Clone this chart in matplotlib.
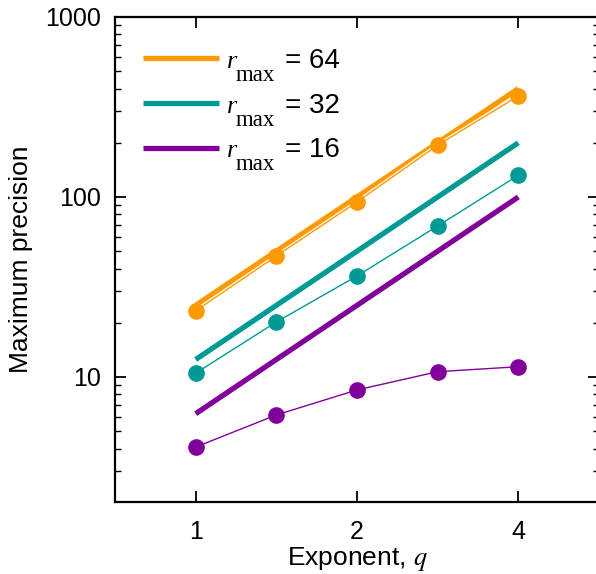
import matplotlib
matplotlib.use("Agg")
import matplotlib.pyplot as plt
import matplotlib.patheffects as pe
from matplotlib.ticker import FixedLocator, LogLocator, NullFormatter, FixedFormatter
import numpy as np

plt.rcParams['font.family'] = ['Liberation Sans', 'DejaVu Sans']
plt.rcParams['mathtext.fontset'] = 'stix'

# Data
q_points = [1.0, 1.414, 2.0, 2.828, 4.0]
prec_64 = [23.3, 47.0, 93.8, 194.0, 364.0]
prec_32 = [10.5, 20.2, 36.4, 69.0, 132.0]
prec_16 = [4.08, 6.15, 8.47, 10.7, 11.4]

q_theory = [1.0, 4.0]
theory_64 = [25.0, 400.0]
theory_32 = [12.5, 200.0]
theory_16 = [6.25, 100.0]

labels = ["64", "32", "16"]
colors = ['#ff9900', '#009a96', '#82009a']

x_ticks = [1, 2, 4]
x_ticklabels = ["1", "2", "4"]
y_ticks = [10, 100, 1000]
y_ticklabels = ["10", "100", "1000"]

W, H = 596, 574
fig = plt.figure(figsize=(W/100, H/100), dpi=100)
left, right, top, bottom = 115, 599, 17, 502
ax = fig.add_axes([left/W, 1-bottom/H, (right-left)/W, (bottom-top)/H])

theories = [theory_64, theory_32, theory_16]
points = [prec_64, prec_32, prec_16]
handles = []
for th, c, lab in zip(theories, colors, labels):
    h, = ax.plot(q_theory, th, color=c, lw=3.8, solid_capstyle='butt',
                 label="= " + lab, zorder=2)
    handles.append(h)
for pts, c in zip(points, colors):
    ax.plot(q_points, pts, color=c, lw=1.0, zorder=3,
            path_effects=[pe.Stroke(linewidth=2.8, foreground='white'), pe.Normal()])
    ax.plot(q_points, pts, linestyle='none', color=c, marker='o', ms=12,
            markeredgewidth=0, zorder=4)

ax.set_xscale('log')
ax.set_yscale('log')
ax.set_xlim(1/np.sqrt(2), 4*np.sqrt(2))
ax.set_ylim(2.02, 1000)

ax.xaxis.set_major_locator(FixedLocator(x_ticks))
ax.xaxis.set_major_formatter(FixedFormatter(x_ticklabels))
ax.xaxis.set_minor_locator(FixedLocator([]))
ax.yaxis.set_major_locator(FixedLocator(y_ticks))
ax.yaxis.set_major_formatter(FixedFormatter(y_ticklabels))
ax.yaxis.set_minor_locator(LogLocator(base=10, subs=np.arange(2, 10)))
ax.yaxis.set_minor_formatter(NullFormatter())

ax.tick_params(which='major', direction='in', length=8, width=1.3,
               top=True, right=True, labelsize=18)
ax.tick_params(axis='x', which='major', pad=13)
ax.tick_params(axis='y', which='major', pad=10)
ax.tick_params(which='minor', direction='in', length=4, width=1.0,
               top=True, right=True)
for s in ax.spines.values():
    s.set_linewidth(1.6)

ax.set_xlabel(r"Exponent, $q$", fontsize=19, labelpad=1)
ax.set_ylabel("Maximum precision", fontsize=19, labelpad=9)

leg = ax.legend(handles=handles, loc='upper left', bbox_to_anchor=(28/484, 0.936),
                frameon=False, fontsize=20, handlelength=2.75, handletextpad=2.36,
                labelspacing=0.67, borderpad=0, borderaxespad=0)
leg.set_zorder(5)

for t in leg.get_texts():
    ax.annotate("r", xy=(0, 0), xycoords=t, xytext=(-58, 6),
                textcoords='offset pixels', va='baseline', ha='left',
                fontsize=19, family='Liberation Serif', style='italic', zorder=10)
    ax.annotate("max", xy=(0, 0), xycoords=t, xytext=(-49, -7),
                textcoords='offset pixels', va='baseline', ha='left',
                fontsize=16.5, family='Liberation Serif', zorder=10)

fig.canvas.draw()
fig.savefig("out.png", dpi=100)
